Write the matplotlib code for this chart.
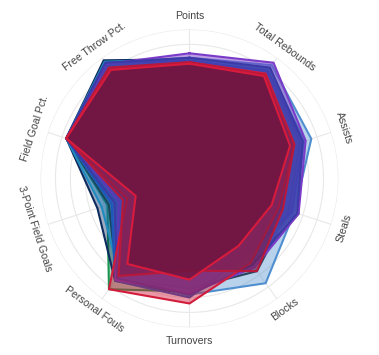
import matplotlib
matplotlib.use('Agg')
import numpy as np
import matplotlib.pyplot as plt

plt.rcParams['font.family'] = ['Liberation Sans', 'DejaVu Sans']

categories = ['Points', 'Total Rebounds', 'Assists', 'Steals', 'Blocks',
              'Turnovers', 'Personal Fouls', '3-Point Field Goals',
              'Field Goal Pct.', 'Free Throw Pct.']

# normalised stat per team, same order as categories (bottom trace first)
green = [0.79, 0.89, 0.78, 0.77, 0.72, 0.76, 0.92, 0.58, 0.87, 0.96]
navy = [0.80, 0.90, 0.81, 0.73, 0.70, 0.78, 0.85, 0.65, 0.87, 0.98]
black = [0.79, 0.90, 0.78, 0.70, 0.77, 0.74, 0.83, 0.57, 0.87, 0.97]
steel = [0.81, 0.94, 0.86, 0.74, 0.87, 0.78, 0.82, 0.55, 0.87, 0.96]
cyan = [0.80, 0.91, 0.81, 0.74, 0.70, 0.79, 0.80, 0.62, 0.87, 0.97]
blue = [0.79, 0.89, 0.80, 0.72, 0.64, 0.80, 0.85, 0.55, 0.87, 0.96]
purple = [0.84, 0.96, 0.82, 0.77, 0.74, 0.77, 0.84, 0.50, 0.86, 0.95]
indigo = [0.81, 0.92, 0.80, 0.76, 0.72, 0.78, 0.83, 0.53, 0.87, 0.96]
red2 = [0.78, 0.87, 0.74, 0.63, 0.70, 0.84, 0.92, 0.44, 0.87, 0.91]
darkred = [0.78, 0.86, 0.74, 0.66, 0.77, 0.62, 0.81, 0.47, 0.87, 0.92]
crimson = [0.77, 0.85, 0.71, 0.58, 0.56, 0.68, 0.71, 0.38, 0.87, 0.90]

series = [green, navy, black, steel, cyan, blue, purple, indigo, red2, darkred, crimson]
line_colors = ['#1a9650', '#0d2b5e', '#111111', '#4f8fd0', '#1f8ac0', '#1c56b8',
               '#7a3cc8', '#3b3aa6', '#d21c3c', '#b8183a', '#d81b3c']
fill_colors = ['#1a9650', '#0d2b5e', '#111111', '#4f8fd0', '#1f8ac0', '#1c56b8',
               '#7a3cc8', '#3b3aa6', '#d21c3c', '#7e1a45', '#70143f']
fill_alpha = [0.4, 0.4, 0.3, 0.4, 0.45, 0.5, 0.5, 0.5, 0.45, 0.6, 0.85]

fig = plt.figure(figsize=(3.79, 3.55), dpi=100, facecolor='white')
ax = fig.add_axes([0.107, 0.078, 0.786, 0.839], projection='polar')
ax.set_theta_offset(np.pi / 2)
ax.set_theta_direction(-1)
ax.set_ylim(0, 1)
ax.grid(False)
ax.set_xticks([])
ax.set_yticks([])
ax.spines['polar'].set_visible(False)

n = len(categories)
angles = np.arange(n) * 2 * np.pi / n
ring_t = np.linspace(0, 2 * np.pi, 300)
for r in np.arange(0.1, 1.01, 0.1):
    ax.plot(ring_t, np.full_like(ring_t, r), color='#e8e8e8', lw=0.8, zorder=0)
for a in angles:
    ax.plot([a, a], [0, 1], color='#e8e8e8', lw=0.8, zorder=0)

closed = np.append(angles, angles[0])
for vals, lc, fc, al in zip(series, line_colors, fill_colors, fill_alpha):
    v = np.append(vals, vals[0])
    ax.fill(closed, v, color=fc, alpha=al, lw=0, zorder=2)
    ax.plot(closed, v, color=lc, lw=1.5, zorder=2)

for a, lab in zip(angles, categories):
    deg = np.degrees(a)
    rot = -deg if (deg <= 90 or deg >= 270) else 180 - deg
    ax.text(a, 1.09, lab, rotation=rot, rotation_mode='anchor',
            ha='center', va='center', fontsize=7.6, color='#444444')

fig.savefig('out.png', dpi=100)
